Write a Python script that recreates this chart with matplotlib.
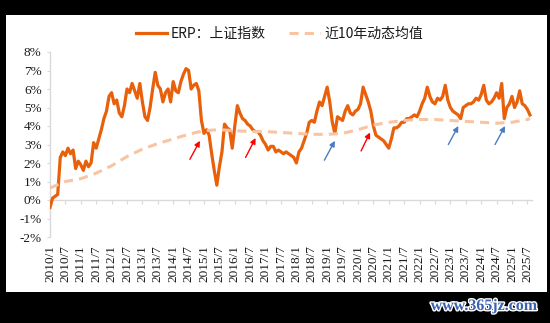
import matplotlib
matplotlib.use('Agg')
import matplotlib.pyplot as plt
import matplotlib.patheffects as pe
from matplotlib.patches import Rectangle

# ---------------- data (monthly) ----------------
erp_2010 = [-0.4, 0.1, 0.2, 0.3, 2.3, 2.6, 2.4, 2.8, 2.5, 2.7, 1.7, 2.1]
erp_2011 = [1.9, 1.6, 2.1, 1.8, 2.0, 3.1, 2.8, 3.3, 3.8, 4.4, 4.8, 5.6]
erp_2012 = [5.8, 5.2, 5.4, 4.7, 4.5, 5.1, 6.0, 5.8, 6.3, 5.9, 5.5, 6.3]
erp_2013 = [5.3, 4.5, 4.3, 5.0, 6.0, 6.9, 6.2, 6.0, 5.3, 5.8, 6.0, 5.3]
erp_2014 = [6.4, 5.9, 5.8, 6.4, 6.8, 7.1, 7.0, 6.0, 6.2, 6.3, 5.9, 4.3]
erp_2015 = [3.6, 3.8, 3.5, 2.5, 1.6, 0.8, 1.8, 2.6, 4.1, 3.9, 3.8, 2.8]
erp_2016 = [4.0, 5.1, 4.7, 4.4, 4.3, 4.1, 4.0, 3.8, 3.7, 3.7, 3.5, 3.2]
erp_2017 = [3.0, 2.7, 2.9, 2.9, 2.6, 2.7, 2.6, 2.5, 2.6, 2.5, 2.4, 2.3]
erp_2018 = [2.0, 2.6, 2.8, 3.2, 3.6, 4.2, 4.3, 4.2, 4.8, 5.3, 5.1, 5.6]
erp_2019 = [6.1, 5.3, 4.2, 3.6, 4.5, 4.4, 4.3, 4.8, 5.1, 4.7, 4.6, 4.8]
erp_2020 = [4.9, 5.2, 6.1, 5.7, 5.3, 4.8, 4.0, 3.5, 3.4, 3.3, 3.2, 3.0]
erp_2021 = [2.8, 3.3, 3.9, 3.9, 4.0, 4.2, 4.2, 4.4, 4.4, 4.5, 4.6, 4.5]
erp_2022 = [4.8, 5.2, 5.5, 6.1, 5.6, 5.3, 5.2, 5.5, 5.4, 5.6, 6.2, 5.4]
erp_2023 = [5.0, 4.8, 4.7, 4.6, 4.4, 5.0, 5.1, 5.2, 5.2, 5.3, 5.5, 5.4]
erp_2024 = [5.7, 6.2, 5.4, 5.2, 5.3, 5.5, 5.8, 5.5, 6.3, 4.4, 5.0, 5.2]
erp_2025 = [5.6, 5.0, 5.3, 5.9, 5.2, 5.1, 4.9, 4.6]

erp = (erp_2010 + erp_2011 + erp_2012 + erp_2013 + erp_2014 + erp_2015 +
       erp_2016 + erp_2017 + erp_2018 + erp_2019 + erp_2020 + erp_2021 +
       erp_2022 + erp_2023 + erp_2024 + erp_2025)
erp_months = list(range(len(erp)))

mean_months = list(range(0, 187, 6)) + [187]
mean_vals = [0.65, 1.0, 1.15, 1.45, 1.85, 2.35, 2.75, 3.05, 3.3, 3.55,
             3.75, 3.8, 3.75, 3.7, 3.7, 3.65, 3.6, 3.55, 3.55, 3.6,
             3.8, 4.05, 4.2, 4.3, 4.35, 4.35, 4.3, 4.25, 4.2, 4.15,
             4.2, 4.35, 4.4]

tick_months = list(range(0, 187, 6))
tick_labels = [f"{2010 + m // 12}/{1 if m % 12 == 0 else 7}" for m in tick_months]
y_ticks = list(range(-2, 9))

red_tail_m = [54.5, 76.2, 121.2]
red_tail_v = [2.2, 2.3, 2.65]
red_tip_m = [58.4, 80.1, 124.7]
red_tip_v = [3.2, 3.35, 3.65]
blue_tail_m = [106.9, 155.2, 173.4]
blue_tail_v = [2.15, 3.0, 3.0]
blue_tip_m = [111.0, 159.1, 177.3]
blue_tip_v = [3.2, 4.0, 4.0]

label_erp = "ERP：上证指数"
label_mean = "近10年动态均值"

# ---------------- figure ----------------
W, H = 550, 323
fig = plt.figure(figsize=(W / 100, H / 100), dpi=100, facecolor='black')
fig.patches.append(Rectangle((6 / W, 1 - 292 / H), (547 - 6) / W, (292 - 15) / H,
                             transform=fig.transFigure, facecolor='white',
                             edgecolor='none', zorder=-10))

ax = fig.add_axes([50 / W, 1 - 237 / H, (532 - 50) / W, (237 - 52) / H])
ax.set_zorder(1)
ax.set_facecolor('none')

for s in ['top', 'right']:
    ax.spines[s].set_visible(False)
ax.spines['bottom'].set_position(('data', 0))
ax.spines['bottom'].set_color('#D9D9D9')
ax.spines['left'].set_color('#D9D9D9')
ax.spines['bottom'].set_linewidth(1.0)
ax.spines['left'].set_linewidth(1.0)

orange = '#E8600A'
peach = '#F8C4A2'
l1, = ax.plot(erp_months, erp, color=orange, lw=2.3, zorder=3, solid_joinstyle='round')
l2, = ax.plot(mean_months, mean_vals, color=peach, lw=2.2, zorder=4)
l2.set_dashes([3.0, 2.0])

ax.set_xlim(0, 187.8)
ax.set_ylim(-2, 8)

serif = ['Liberation Serif', 'DejaVu Serif']
ax.set_yticks(y_ticks)
ax.set_yticklabels([f"{v}%" for v in y_ticks], fontfamily=serif, fontsize=9.5, color='#1a1a1a')
ax.set_xticks(tick_months)
ax.set_xticklabels(tick_labels, rotation=90, fontfamily=serif, fontsize=9.5,
                   color='#1a1a1a', va='top', ha='center')

ax.tick_params(axis='x', length=3, width=0.8, color='#D9D9D9', pad=29.5)
ax.tick_params(axis='y', length=2, width=0.8, color='#D9D9D9', pad=4)

arrow_common = dict(arrowstyle='-|>', lw=1.0, mutation_scale=8, shrinkA=0, shrinkB=0)
for tm, tv, hm, hv in zip(red_tail_m, red_tail_v, red_tip_m, red_tip_v):
    ax.annotate('', xy=(hm, hv), xytext=(tm, tv),
                arrowprops=dict(color='#FF0000', **arrow_common), zorder=5)
for tm, tv, hm, hv in zip(blue_tail_m, blue_tail_v, blue_tip_m, blue_tip_v):
    ax.annotate('', xy=(hm, hv), xytext=(tm, tv),
                arrowprops=dict(color='#4A7CC4', **arrow_common), zorder=5)

leg = fig.legend([l1, l2], [label_erp, label_mean], loc='center', ncol=2,
                 bbox_to_anchor=(0.508, 1 - 34 / H), frameon=False,
                 prop={'family': ['Noto Sans CJK SC', 'DejaVu Sans'], 'size': 10},
                 handlelength=2.2, columnspacing=1.7, handletextpad=0.3)
for t in leg.get_texts():
    t.set_color('#1a1a1a')

fig.text(484 / W, 1 - 306 / H, "www.365jz.com", ha='center', va='center',
         fontfamily=serif, fontweight='bold', fontsize=11.5, color='#3A62B0',
         path_effects=[pe.withStroke(linewidth=2, foreground='white')])

fig.savefig('out.png', dpi=100, facecolor='black')
